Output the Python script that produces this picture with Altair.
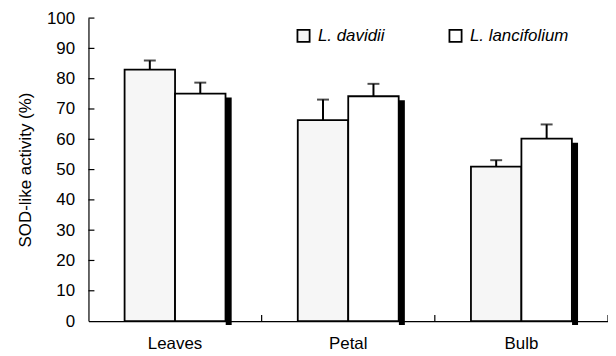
import altair as alt
import pandas as pd

categories = ["Leaves", "Petal", "Bulb"]
series = ["L. davidii", "L. lancifolium"]
davidii = [83.0, 66.3, 51.0]
davidii_err = [3.0, 6.8, 2.1]
lancifolium = [75.1, 74.2, 60.2]
lancifolium_err = [3.6, 4.1, 4.7]
y_ticks = [0, 10, 20, 30, 40, 50, 60, 70, 80, 90, 100]

rows = []
for i, c in enumerate(categories):
    rows.append({"cat": c, "series": series[0], "v": davidii[i], "top": davidii[i] + davidii_err[i]})
    rows.append({"cat": c, "series": series[1], "v": lancifolium[i], "top": lancifolium[i] + lancifolium_err[i]})
df = pd.DataFrame(rows)
df_l = df[df.series == series[1]]
ticks_df = pd.DataFrame({"t": y_ticks[1:]})
cat_df = pd.DataFrame({"cat": categories})

FONT = "Liberation Sans"
H = 305

xscale = alt.Scale(domain=categories, paddingInner=0, paddingOuter=0)
offscale = alt.Scale(domain=series, paddingInner=0, paddingOuter=0.716)
yscale = alt.Scale(domain=[0, 100])

XAX = alt.Axis(title=None, ticks=False, labelAngle=0, labelAlign="center",
               labelFontSize=17, labelFont=FONT, labelColor="black", labelPadding=15,
               domainColor="black", domainWidth=1.2, grid=False)
YAX = alt.Axis(title="SOD-like activity (%)", values=y_ticks, ticks=False,
               labelOverlap=False, labelFontSize=17, labelFont=FONT, labelColor="black",
               labelPadding=14, domainColor="black", domainWidth=1.2,
               grid=False, titleFont=FONT, titleFontSize=17,
               titleFontWeight="normal", titleColor="black", titlePadding=12)

X = alt.X("cat:N", scale=xscale, sort=categories, axis=XAX)
XO = alt.XOffset("series:N", scale=offscale, sort=series)
Y = alt.Y("v:Q", scale=yscale, axis=YAX)

shadow = alt.Chart(df_l).mark_bar(color="black", width=6, xOffset=54, yOffset=4, y2Offset=-4).encode(
    x=X, y=Y)

bars = alt.Chart(df).mark_bar(stroke="black", strokeWidth=1.8).encode(
    x=X, xOffset=XO, y=Y,
    color=alt.Color("series:N", sort=series,
                    scale=alt.Scale(domain=series, range=["#f6f6f6", "#ffffff"]),
                    legend=alt.Legend(title=None, orient="none", legendX=208, legendY=9,
                                      direction="horizontal", symbolType="square",
                                      symbolSize=150, symbolStrokeColor="black",
                                      symbolStrokeWidth=1.8, labelFont=FONT,
                                      labelFontSize=17, labelFontStyle="italic",
                                      labelColor="black", labelOffset=6,
                                      columnPadding=60, labelLimit=300)))

err = alt.Chart(df).mark_rule(color="black", strokeWidth=2).encode(
    x=X, xOffset=XO, y=Y, y2="top:Q")
caps = alt.Chart(df).mark_tick(color="black", size=12, thickness=2).encode(
    x=X, xOffset=XO, y=alt.Y("top:Q", scale=yscale, axis=YAX))

yt = alt.Chart(ticks_df).mark_rule(color="black", strokeWidth=1.2).encode(
    y=alt.Y("t:Q", scale=yscale, axis=YAX), x=alt.value(0), x2=alt.value(6))
xt = alt.Chart(cat_df).mark_rule(color="black", strokeWidth=1.2).encode(
    x=alt.X("cat:N", scale=xscale, sort=categories, bandPosition=1, axis=XAX),
    y=alt.value(H), y2=alt.value(H - 6))

chart = alt.layer(bars, shadow, err, caps, yt, xt).properties(
    width=523, height=H,
    autosize=alt.AutoSizeParams(type="none"),
    padding={"left": 81, "top": 9, "right": 0, "bottom": 34},
).configure_view(stroke=None).configure_axis(labelOverlap=False)

chart.save("out.html", embed_options={"renderer": "svg", "actions": False})
